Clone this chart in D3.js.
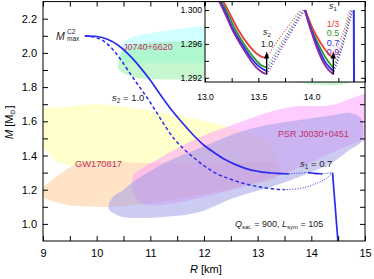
<!DOCTYPE html>
<html>
<head>
<meta charset="utf-8">
<script src="https://cdn.jsdelivr.net/npm/d3@7"></script>
<style>
body { margin: 0; background: #fff; }
svg { display: block; font-family: "Liberation Sans", Arial, sans-serif; }
</style>
</head>
<body>
<div id="chart"></div>
<script>
// ---- data: [R km, M Msun] ----
let xTicks = [9, 10, 11, 12, 13, 14, 15];
let yTicks = [1.0, 1.2, 1.4, 1.6, 1.8, 2.0, 2.2];
let insetXTicks = [13.0, 13.5, 14.0];
let insetYTicks = [1.292, 1.296, 1.300];
let s1Labels = ["1/3", "0.5", "0.7", "0.9"];

// observational regions
let j0740Cyan = [[10.43,1.96],[10.46,2.03],[10.55,2.075],[10.75,2.10],[11.2,2.125],[11.8,2.15],[12.5,2.18],[13.2,2.2],[14.2,2.22],[14.8,2.2],[14.8,1.94],[13.0,1.94],[11.5,1.94],[10.7,1.94],[10.5,1.945]];
let j0740Green = [[10.40,1.91],[10.45,1.99],[10.6,2.04],[11.0,2.06],[12.0,2.07],[13.0,2.08],[14.8,2.08],[14.8,1.845],[13.0,1.845],[12.0,1.845],[11.2,1.845],[10.8,1.85],[10.55,1.875]];
let gwYellow = [[8.9,1.66],[9.44,1.684],[10.0,1.70],[10.67,1.678],[11.3,1.645],[11.92,1.608],[12.67,1.549],[13.13,1.49],[13.36,1.42],[13.34,1.356],[12.0,1.356],[10.5,1.356],[9.31,1.356],[9.05,1.43],[8.9,1.46]];
let gwOrange = [[8.9,1.20],[9.0,1.216],[9.22,1.27],[9.4,1.31],[9.68,1.356],[11.0,1.356],[12.5,1.356],[13.3,1.356],[13.42,1.32],[13.35,1.27],[12.85,1.228],[11.92,1.17],[11.0,1.122],[10.3,1.10],[10.0,1.10],[9.44,1.11],[9.0,1.151],[8.9,1.16]];
let psrPink = [[10.66,1.22],[10.7,1.29],[10.87,1.33],[11.2,1.39],[11.61,1.46],[12.1,1.53],[12.54,1.58],[13.17,1.65],[13.66,1.685],[14.4,1.695],[14.8,1.74],[15.2,1.77],[15.2,1.48],[14.9,1.48],[14.1,1.375],[13.54,1.30],[13.0,1.245],[12.4,1.19],[11.9,1.15],[11.3,1.115],[10.95,1.11],[10.75,1.14]];
let psrLavender = [[10.22,1.09],[10.3,1.157],[10.5,1.20],[10.68,1.245],[11.3,1.362],[11.92,1.444],[12.67,1.537],[13.17,1.578],[13.79,1.608],[14.4,1.635],[14.72,1.649],[14.92,1.62],[14.97,1.55],[14.93,1.48],[14.7,1.43],[14.4,1.36],[13.9,1.29],[13.36,1.227],[12.54,1.15],[11.92,1.07],[11.3,1.042],[10.67,1.035],[10.43,1.046]];

// M-R curves, one set per s1 value (1/3, 0.5, 0.7, 0.9)
let branch1 = [
  [[13.165,1.3012],[13.215,1.3000],[13.31,1.2977],[13.40,1.2960],[13.48,1.2949],[13.54,1.29445],[13.578,1.29438]],
  [[13.15,1.3012],[13.198,1.3000],[13.285,1.2977],[13.37,1.2959],[13.45,1.2945],[13.52,1.29355],[13.578,1.29322]],
  [[9.78,2.10],[10.0,2.096],[10.2,2.08],[10.4,2.045],[10.6,1.99],[10.8,1.92],[11.0,1.84],[11.2,1.75],[11.4,1.665],[11.6,1.59],[11.8,1.52],[12.0,1.46],[12.2,1.415],[12.4,1.375],[12.6,1.345],[12.8,1.322],[13.0,1.308],[13.135,1.3012],[13.183,1.3000],[13.265,1.2977],[13.35,1.2959],[13.43,1.2944],[13.50,1.2934],[13.578,1.29279]],
  [[13.125,1.3012],[13.173,1.3000],[13.255,1.2977],[13.34,1.2958],[13.42,1.2942],[13.49,1.2931],[13.545,1.29258],[13.578,1.29244]]
];
let dotted1 = [
  [[13.578,1.29438],[13.65,1.2958],[13.74,1.2974],[13.83,1.2989],[13.89,1.3000]],
  [[13.578,1.29322],[13.65,1.2947],[13.74,1.2966],[13.83,1.2984],[13.905,1.3000]],
  [[13.578,1.29279],[13.65,1.2943],[13.74,1.2962],[13.83,1.2981],[13.92,1.3000]],
  [[13.578,1.29244],[13.65,1.2939],[13.74,1.2959],[13.83,1.2978],[13.935,1.3000]]
];
let branch2 = [
  [[13.94,1.3000],[14.01,1.2978],[14.08,1.2962],[14.14,1.2951],[14.18,1.29455],[14.203,1.29438]],
  [[13.94,1.3000],[14.0,1.2977],[14.07,1.2958],[14.13,1.2944],[14.175,1.2936],[14.203,1.29322]],
  [[13.937,1.3000],[13.995,1.2977],[14.06,1.2956],[14.12,1.2940],[14.17,1.2932],[14.203,1.29283]],
  [[13.935,1.3000],[13.99,1.2977],[14.05,1.2955],[14.11,1.2938],[14.16,1.2929],[14.203,1.29244]]
];
let dotted2 = [
  [[14.203,1.29438],[14.25,1.2958],[14.30,1.2975],[14.355,1.3000]],
  [[14.203,1.29322],[14.25,1.2949],[14.31,1.2972],[14.365,1.3000]],
  [[14.203,1.29283],[14.26,1.2948],[14.32,1.2972],[14.375,1.3000]],
  [[14.203,1.29244],[14.26,1.2945],[14.32,1.2970],[14.385,1.3000]]
];
let dropBranch = [[14.395,1.3000],[14.44,1.12],[14.50,0.88]];

// dashed curve (s2 = 1.0) and its dotted continuation
let dashedCurve = [[9.78,2.10],[10.0,2.088],[10.15,2.065],[10.3,2.02],[10.45,1.96],[10.6,1.89],[10.8,1.80],[11.0,1.71],[11.15,1.635],[11.3,1.56],[11.45,1.495],[11.6,1.445],[11.8,1.39],[12.0,1.34],[12.2,1.30],[12.4,1.272],[12.6,1.25],[12.8,1.232],[13.0,1.218],[13.2,1.208],[13.35,1.203],[13.5,1.200]];
let dashedDotted = [[13.5,1.200],[13.8,1.208],[14.1,1.237],[14.3,1.272],[14.39,1.300]];

// arrows in the inset: [R, from M, to M]
let arrows = [[13.578, 1.2924, 1.2951], [14.203, 1.2924, 1.2951]];

// ---- styles ----
let curveColors = ["#f03a3a", "#2e9a2e", "#2b2bf0", "#8e2aa6"];
let labelColor = "#c0306a";

let w = 374, h = 279;
let svg = d3.select("#chart").append("svg").attr("width", w).attr("height", h);

let x = d3.scaleLinear().domain([9, 15]).range([43, 365]);
let y = d3.scaleLinear().domain([0.9, 2.3]).range([241, 1.6]);

svg.append("clipPath").attr("id", "mainClip").append("rect")
  .attr("x", 43).attr("y", 1.6).attr("width", 322).attr("height", 239.4);

let blob = d3.line().x(d => x(d[0])).y(d => y(d[1])).curve(d3.curveCatmullRomClosed.alpha(0.5));
let curve = d3.line().x(d => x(d[0])).y(d => y(d[1])).curve(d3.curveMonotoneX);

let plot = svg.append("g").attr("clip-path", "url(#mainClip)");
let regions = [
  [gwYellow, "#ffff99", 0.5],
  [gwOrange, "#ffc080", 0.45],
  [j0740Cyan, "#a0ffff", 0.5],
  [j0740Green, "#90f0a0", 0.5],
  [psrPink, "#ff99ff", 0.5],
  [psrLavender, "#9999e6", 0.5]
];
regions.forEach(r => {
  plot.append("path").attr("d", blob(r[0])).attr("fill", r[1]).attr("fill-opacity", r[2]).attr("stroke", "none");
});

// main blue curve (s1 = 0.7)
let blue = curveColors[2];
plot.append("path").attr("d", curve(branch1[2])).attr("fill", "none").attr("stroke", blue).attr("stroke-width", 1.7);
plot.append("path").attr("d", curve(dotted1[2])).attr("fill", "none").attr("stroke", blue).attr("stroke-width", 1).attr("stroke-dasharray", "1,1.6");
plot.append("path").attr("d", curve(branch2[2])).attr("fill", "none").attr("stroke", blue).attr("stroke-width", 1.7);
plot.append("path").attr("d", curve(dotted2[2])).attr("fill", "none").attr("stroke", blue).attr("stroke-width", 1).attr("stroke-dasharray", "1,1.6");
plot.append("path").attr("d", curve(dropBranch)).attr("fill", "none").attr("stroke", blue).attr("stroke-width", 1.7);
plot.append("path").attr("d", curve(dashedCurve)).attr("fill", "none").attr("stroke", blue).attr("stroke-width", 1.5).attr("stroke-dasharray", "3.5,2.5");
plot.append("path").attr("d", curve(dashedDotted)).attr("fill", "none").attr("stroke", blue).attr("stroke-width", 1).attr("stroke-dasharray", "1,1.6");

// main axes, inward ticks
function styleAxis(g) {
  g.select(".domain").remove();
  g.attr("font-size", 11).attr("font-family", null);
  g.selectAll("text").attr("fill", "#000");
}
svg.append("g").attr("transform", "translate(0,241)")
  .call(d3.axisBottom(x).tickValues(d3.range(9, 15.01, 0.5)).tickSize(-5).tickPadding(8)
    .tickFormat(d => xTicks.includes(d) ? d : ""))
  .call(styleAxis);
svg.append("g").attr("transform", "translate(0,1.6)")
  .call(d3.axisTop(x).tickValues(d3.range(9, 15.01, 0.5)).tickSize(-5).tickFormat(""))
  .call(styleAxis);
svg.append("g").attr("transform", "translate(43,0)")
  .call(d3.axisLeft(y).tickValues(d3.range(1.0, 2.25, 0.1)).tickSize(-5).tickPadding(6)
    .tickFormat(d => yTicks.some(t => Math.abs(t - d) < 1e-6) ? d.toFixed(1) : ""))
  .call(styleAxis);
svg.append("g").attr("transform", "translate(365,0)")
  .call(d3.axisRight(y).tickValues(d3.range(1.0, 2.25, 0.1)).tickSize(-5).tickFormat(""))
  .call(styleAxis);
svg.append("rect").attr("x", 43).attr("y", 1.6).attr("width", 322).attr("height", 239.4)
  .attr("fill", "none").attr("stroke", "#000").attr("stroke-width", 1);

// text labels in the main plot
function label(px, py, size, color, parts) {
  let t = svg.append("text").attr("x", px).attr("y", py).attr("font-size", size).attr("fill", color);
  parts.forEach(p => {
    let s = t.append("tspan").text(p.t);
    if (p.i) s.attr("font-style", "italic");
    if (p.fs) s.attr("font-size", p.fs);
    if (p.dy) s.attr("dy", p.dy);
  });
  return t;
}
label(123, 50, 9, labelColor, [{t: "J0740+6620"}]);
label(75, 167, 9.3, labelColor, [{t: "GW170817"}]);
label(278, 137, 9, labelColor, [{t: "PSR J0030+0451"}]);
label(56, 40, 10.5, "#222", [{t: "M", i: true}]);
label(67, 34, 6.5, "#222", [{t: "C2"}]);
label(67, 41, 6.5, "#222", [{t: "max"}]);
label(112, 101, 9.5, "#222", [{t: "s", i: true}, {t: "2", fs: 6.5, dy: 2}, {t: " = 1.0", dy: -2}]);
label(300, 167, 9.5, "#222", [{t: "s", i: true}, {t: "1", fs: 6.5, dy: 2}, {t: " = 0.7", dy: -2}]);
label(235, 227, 9, "#222", [{t: "Q", i: true}, {t: "sat.", fs: 6, dy: 2}, {t: " = 900, ", dy: -2},
  {t: "L", i: true}, {t: "sym", fs: 6, dy: 2}, {t: " = 105", dy: -2}]);
label(190, 273, 11, "#000", [{t: "R", i: true}, {t: " [km]"}]);
label(0, 0, 11, "#000", [{t: "M", i: true}, {t: " [M"}, {t: "\u2299", fs: 7, dy: 2}, {t: "]", dy: -2}])
  .attr("transform", "translate(13,139) rotate(-90)");

// ---- inset ----
let ix = d3.scaleLinear().domain([13.0, 14.5]).range([205, 365]);
let iy = d3.scaleLinear().domain([1.2915, 1.301]).range([82, 1.6]);
let icurve = d3.line().x(d => ix(d[0])).y(d => iy(d[1])).curve(d3.curveMonotoneX);

svg.append("rect").attr("x", 205).attr("y", 1.6).attr("width", 160).attr("height", 80.4).attr("fill", "#fff");
svg.append("clipPath").attr("id", "insetClip").append("rect")
  .attr("x", 205).attr("y", 1.6).attr("width", 160).attr("height", 80.4);
let inset = svg.append("g").attr("clip-path", "url(#insetClip)");

s1Labels.forEach((s, i) => {
  inset.append("path").attr("d", icurve(branch1[i])).attr("fill", "none").attr("stroke", curveColors[i]).attr("stroke-width", 1.8);
  inset.append("path").attr("d", icurve(branch2[i])).attr("fill", "none").attr("stroke", curveColors[i]).attr("stroke-width", 1.8);
  inset.append("path").attr("d", icurve(dotted1[i])).attr("fill", "none").attr("stroke", curveColors[i]).attr("stroke-width", 1.1).attr("stroke-dasharray", "1,1.8");
  inset.append("path").attr("d", icurve(dotted2[i])).attr("fill", "none").attr("stroke", curveColors[i]).attr("stroke-width", 1.1).attr("stroke-dasharray", "1,1.8");
});
inset.append("path").attr("d", icurve(dropBranch)).attr("fill", "none").attr("stroke", blue).attr("stroke-width", 2);

arrows.forEach(a => {
  inset.append("line").attr("x1", ix(a[0])).attr("x2", ix(a[0])).attr("y1", iy(a[1])).attr("y2", iy(a[2]) + 5)
    .attr("stroke", "#000").attr("stroke-width", 1.4);
  inset.append("path").attr("d", "M0,0L-2.6,7L2.6,7Z").attr("fill", "#000")
    .attr("transform", `translate(${ix(a[0])},${iy(a[2])})`);
});

function styleInset(g) {
  g.select(".domain").remove();
  g.attr("font-size", 8.6).attr("font-family", null);
  g.selectAll("text").attr("fill", "#000");
}
svg.append("g").attr("transform", "translate(0,82)")
  .call(d3.axisBottom(ix).tickValues(d3.range(13.0, 14.51, 0.25)).tickSize(-4).tickPadding(12)
    .tickFormat(d => insetXTicks.includes(d) ? d.toFixed(1) : ""))
  .call(styleInset);
svg.append("g").attr("transform", "translate(0,1.6)")
  .call(d3.axisTop(ix).tickValues(d3.range(13.0, 14.51, 0.25)).tickSize(-4).tickFormat(""))
  .call(styleInset);
svg.append("g").attr("transform", "translate(205,0)")
  .call(d3.axisLeft(iy).tickValues(d3.range(1.292, 1.3005, 0.002)).tickSize(-4).tickPadding(3)
    .tickFormat(d => insetYTicks.some(t => Math.abs(t - d) < 1e-7) ? d.toFixed(3) : ""))
  .call(styleInset);
svg.append("g").attr("transform", "translate(365,0)")
  .call(d3.axisRight(iy).tickValues(d3.range(1.292, 1.3005, 0.002)).tickSize(-4).tickFormat(""))
  .call(styleInset);
svg.append("rect").attr("x", 205).attr("y", 1.6).attr("width", 160).attr("height", 80.4)
  .attr("fill", "none").attr("stroke", "#000").attr("stroke-width", 1);

// inset labels
let lab = svg.append("g").attr("font-size", 9).attr("text-anchor", "middle");
let t2 = lab.append("text").attr("x", 267).attr("y", 35).attr("fill", "#222");
t2.append("tspan").attr("font-style", "italic").text("s");
t2.append("tspan").attr("font-size", 6).attr("dy", 2).text("2");
lab.append("text").attr("x", 267).attr("y", 47).attr("fill", "#222").text("1.0");
let t1 = lab.append("text").attr("x", 333).attr("y", 9).attr("fill", "#222");
t1.append("tspan").attr("font-style", "italic").text("s");
t1.append("tspan").attr("font-size", 6).attr("dy", 2).text("1");
s1Labels.forEach((s, i) => {
  lab.append("text").attr("x", 333).attr("y", 27 + i * 9.4).attr("fill", curveColors[i]).text(s);
});
</script>
</body>
</html>
